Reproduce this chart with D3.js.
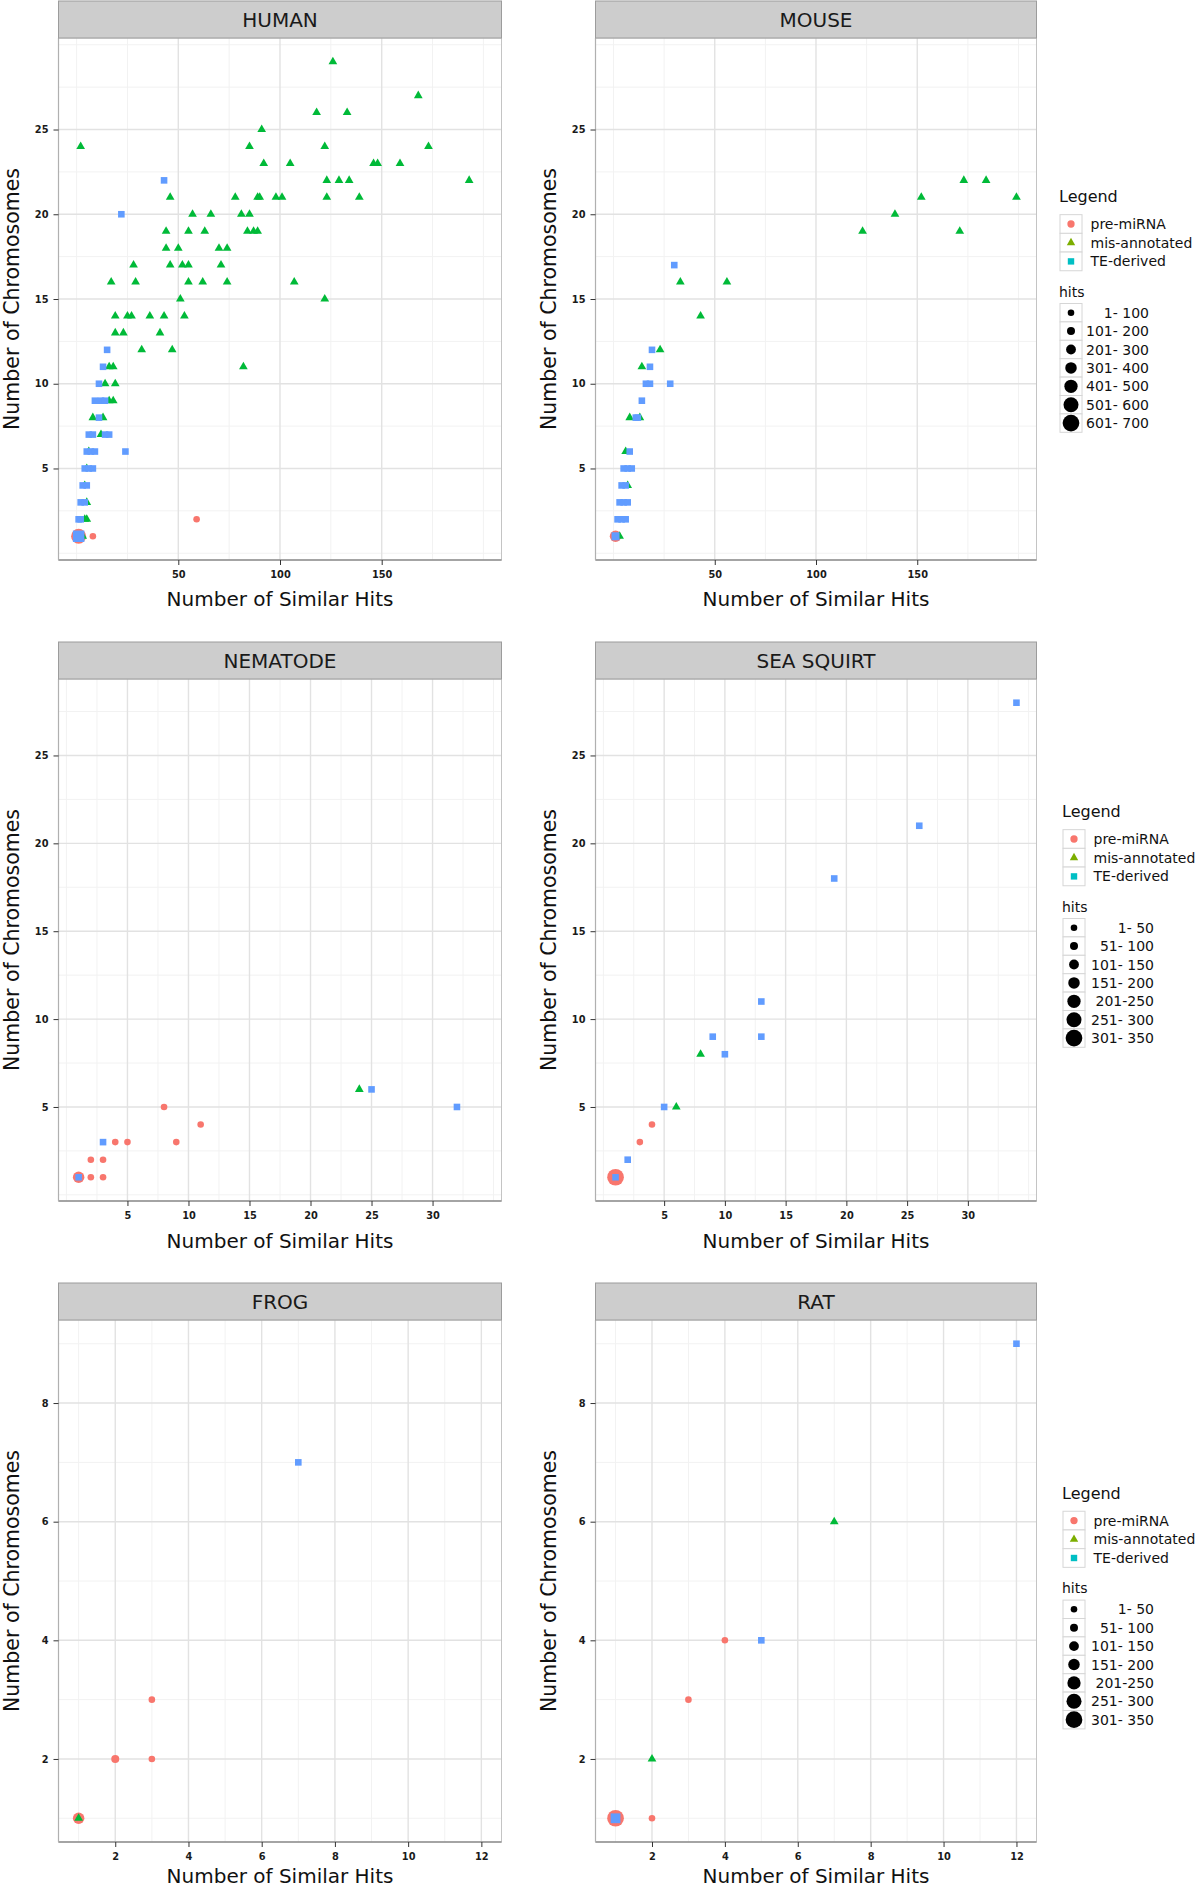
<!DOCTYPE html>
<html><head><meta charset="utf-8">
<script src="https://cdn.jsdelivr.net/npm/d3@7"></script>
<style>body{margin:0;background:#fff}svg{display:block}text{font-family:"DejaVu Sans",sans-serif}</style>
</head><body><svg id="chart" width="1200" height="1891"></svg>
<script>
// ---------- categories & labels ----------
const categories = ["pre-miRNA", "mis-annotated", "TE-derived"];
const panelTitles = ["HUMAN", "MOUSE", "NEMATODE", "SEA SQUIRT", "FROG", "RAT"];
const hitsLabelsRow1 = ["1- 100", "101- 200", "201- 300", "301- 400", "401- 500", "501- 600", "601- 700"];
const hitsLabelsRow23 = ["1- 50", "51- 100", "101- 150", "151- 200", "201-250", "251- 300", "301- 350"];
const hitsBinRow1 = 100, hitsBinRow23 = 50;

// ---------- tick values ----------
const row1XTicks = [50, 100, 150], row1YTicks = [5, 10, 15, 20, 25];
const row2XTicks = [5, 10, 15, 20, 25, 30], row2YTicks = [5, 10, 15, 20, 25];
const row3XTicks = [2, 4, 6, 8, 10, 12], row3YTicks = [2, 4, 6, 8];

// ---------- data: [similar hits, chromosomes, hits] ----------
const humanPre = [[1,1,560],[8,1,8],[59,2,6]];
const humanMis = [
 [126,29,4],[168,27,4],[118,26,4],[133,26,4],[91,25,4],
 [2,24,4],[85,24,4],[122,24,4],[173,24,4],
 [92,23,4],[105,23,4],[146,23,4],[148,23,4],[159,23,4],
 [123,22,4],[129,22,4],[134,22,4],[193,22,4],
 [46,21,4],[78,21,4],[89,21,4],[90,21,4],[98,21,4],[101,21,4],[123,21,4],[139,21,4],
 [57,20,4],[66,20,4],[81,20,4],[85,20,4],
 [44,19,4],[55,19,4],[63,19,4],[84,19,4],[87,19,4],[89,19,4],
 [44,18,4],[50,18,4],[70,18,4],[74,18,4],
 [28,17,4],[46,17,4],[52,17,4],[55,17,4],[71,17,4],
 [17,16,4],[29,16,4],[55,16,4],[62,16,4],[74,16,4],[107,16,4],
 [51,15,4],[122,15,4],
 [19,14,4],[25,14,4],[27,14,4],[36,14,4],[43,14,4],[53,14,4],
 [19,13,4],[23,13,4],[41,13,4],
 [32,12,4],[47,12,4],
 [16,11,4],[18,11,4],[82,11,4],
 [14,10,4],[19,10,4],
 [16,9,4],[18,9,4],
 [8,8,4],[13,8,4],
 [12,7,4],[6,6,4],[5,5,5],[4,4,6],[5,3,6],[4,2,8],[5,2,6],[3,1,20]
];
const humanTE = [
 [43,22,4],[22,20,4],[15,12,4],[13,11,4],[11,10,4],
 [9,9,4],[12,9,4],[14,9,4],[11,8,4],
 [6,7,4],[8,7,4],[14,7,4],[16,7,4],
 [5,6,4],[7,6,4],[9,6,4],[24,6,4],
 [4,5,5],[6,5,5],[8,5,5],[3,4,6],[5,4,6],[2,3,8],[4,3,6],[1,2,20],[2,2,10],[1,1,320]
];
const mousePre = [[1,1,350]];
const mouseMis = [
 [173,22,4],[184,22,4],[152,21,4],[199,21,4],[139,20,4],[123,19,4],[171,19,4],
 [33,16,4],[56,16,4],[43,14,4],[23,12,4],[14,11,4],[8,8,4],[13,8,4],[6,6,4],[7,4,4],[3,1,10]
];
const mouseTE = [
 [30,17,4],[19,12,4],[18,11,4],[16,10,4],[18,10,4],[28,10,4],[14,9,4],[11,8,4],[12,8,4],
 [8,6,4],[5,5,5],[7,5,5],[9,5,5],[4,4,6],[6,4,6],[3,3,6],[5,3,6],[7,3,6],
 [2,2,8],[4,2,8],[6,2,6],[1,1,150]
];
const nematodePre = [[1,1,180],[2,1,6],[3,1,5],[2,2,5],[3,2,5],[4,3,4],[5,3,4],[9,3,4],[11,4,4],[8,5,4]];
const nematodeMis = [[24,6,3]];
const nematodeTE = [[1,1,30],[3,3,4],[25,6,3],[32,5,3]];
const seasquirtPre = [[1,1,320],[3,3,5],[4,4,4]];
const seasquirtMis = [[6,5,3],[8,8,3]];
const seasquirtTE = [[1,1,40],[2,2,6],[5,5,4],[9,9,3],[10,8,3],[13,9,3],[13,11,3],[19,18,3],[26,21,3],[34,28,3]];
const frogPre = [[1,1,170],[2,2,70],[3,2,10],[3,3,10]];
const frogMis = [[1,1,20]];
const frogTE = [[7,7,3]];
const ratPre = [[1,1,330],[2,1,10],[3,3,8],[4,4,6]];
const ratMis = [[2,2,40],[7,6,4]];
const ratTE = [[1,1,110],[5,4,8],[12,9,3]];

// ---------- styles ----------
const pointColors = ["#F8766D", "#00BA38", "#619CFF"];
const keyColors = ["#F8766D", "#7CAE00", "#00BFC4"];
const sizeDiameters = [6.6, 8, 9.8, 11.5, 13.3, 15, 16.7];
const shapes = [d3.symbolCircle, d3.symbolTriangle, d3.symbolSquare];
function symbolArea(k, D) {
  if (k === 0) return Math.PI * (D / 2) * (D / 2);
  if (k === 1) { const s = D * 1.32; return Math.sqrt(3) / 4 * s * s; }
  const s = D * 1.0; return s * s;
}

const rows = [
  {panels: [[humanPre, humanMis, humanTE], [mousePre, mouseMis, mouseTE]], xt: row1XTicks, yt: row1YTicks, bin: hitsBinRow1, labels: hitsLabelsRow1},
  {panels: [[nematodePre, nematodeMis, nematodeTE], [seasquirtPre, seasquirtMis, seasquirtTE]], xt: row2XTicks, yt: row2YTicks, bin: hitsBinRow23, labels: hitsLabelsRow23},
  {panels: [[frogPre, frogMis, frogTE], [ratPre, ratMis, ratTE]], xt: row3XTicks, yt: row3YTicks, bin: hitsBinRow23, labels: hitsLabelsRow23}
];

// ---------- layout ----------
const stripTops = [1, 642, 1283];
const stripH = 37, panelH = 522;
const colLeft = [58.5, 595.5], colW = [443, 441];
const yTitleX = [12, 549];
const xTitleOffset = [39, 40, 34];
const legendTitleY = [196.7, 811.7, 1493.3];
const legendX = [1059, 1062, 1062];

const svg = d3.select("#chart");
svg.append("rect").attr("width", 1200).attr("height", 1891).attr("fill", "#fff");

function expand(ext) { const p = (ext[1] - ext[0]) * 0.05; return [ext[0] - p, ext[1] + p]; }
function minorBreaks(t, dom) {
  const step = t[1] - t[0];
  const out = [];
  for (let v = t[0] - step; v <= t[t.length - 1] + step + 1e-9; v += step / 2) {
    if (!t.some(m => Math.abs(m - v) < 1e-9) && v >= dom[0] && v <= dom[1]) out.push(v);
  }
  return out;
}

rows.forEach((row, ri) => {
  const all = row.panels.flat(2);
  const xDom = expand(d3.extent(all, d => d[0]));
  const yDom = expand(d3.extent(all, d => d[1]));
  const size = d3.scaleQuantize().domain([0, 7 * row.bin]).range(sizeDiameters);
  const top = stripTops[ri] + stripH;

  row.panels.forEach((pan, ci) => {
    const w = colW[ci];
    const x = d3.scaleLinear().domain(xDom).range([0, w]);
    const y = d3.scaleLinear().domain(yDom).range([panelH, 0]);
    const g = svg.append("g").attr("transform", `translate(${colLeft[ci]},${top})`);
    g.append("rect").attr("width", w).attr("height", panelH).attr("fill", "#fff");
    // minor grid
    g.selectAll(".mx").data(minorBreaks(row.xt, xDom)).join("line")
      .attr("x1", d => x(d)).attr("x2", d => x(d)).attr("y1", 0).attr("y2", panelH)
      .attr("stroke", "#f2f2f2").attr("stroke-width", 1);
    g.selectAll(".my").data(minorBreaks(row.yt, yDom)).join("line")
      .attr("y1", d => y(d)).attr("y2", d => y(d)).attr("x1", 0).attr("x2", w)
      .attr("stroke", "#f2f2f2").attr("stroke-width", 1);
    // major grid
    g.selectAll(".gx").data(row.xt).join("line")
      .attr("x1", d => x(d)).attr("x2", d => x(d)).attr("y1", 0).attr("y2", panelH)
      .attr("stroke", "#e2e2e2").attr("stroke-width", 1.4);
    g.selectAll(".gy").data(row.yt).join("line")
      .attr("y1", d => y(d)).attr("y2", d => y(d)).attr("x1", 0).attr("x2", w)
      .attr("stroke", "#e2e2e2").attr("stroke-width", 1.4);
    // points
    pan.forEach((series, k) => {
      g.selectAll(null).data(series).join("path")
        .attr("transform", d => `translate(${x(d[0])},${y(d[1])})`)
        .attr("d", d => d3.symbol().type(shapes[k]).size(symbolArea(k, size(d[2])))())
        .attr("fill", pointColors[k]);
    });
    // border
    g.append("rect").attr("width", w).attr("height", panelH).attr("fill", "none").attr("stroke", "#c4c4c4");
    g.append("line").attr("x1", 0).attr("x2", w).attr("y1", panelH).attr("y2", panelH).attr("stroke", "#8f8f8f").attr("stroke-width", 1.3);
    g.append("line").attr("x1", 0).attr("x2", 0).attr("y1", 0).attr("y2", panelH).attr("stroke", "#b0b0b0").attr("stroke-width", 1.2);
    // axes
    const ax = g.append("g").attr("transform", `translate(0,${panelH})`)
      .call(d3.axisBottom(x).tickValues(row.xt).tickSize(5).tickPadding(6));
    const ay = g.append("g").call(d3.axisLeft(y).tickValues(row.yt).tickSize(5).tickPadding(5));
    [ax, ay].forEach(a => {
      a.select(".domain").remove();
      a.selectAll(".tick line").attr("stroke", "#333");
      a.selectAll(".tick text").attr("font-family", "DejaVu Sans").attr("font-size", 9.8)
        .attr("font-weight", "bold").attr("fill", "#1a1a1a");
    });
    // strip
    svg.append("rect").attr("x", colLeft[ci]).attr("y", stripTops[ri]).attr("width", w).attr("height", stripH)
      .attr("fill", "#cdcdcd").attr("stroke", "#9c9c9c").attr("stroke-width", 1);
    svg.append("text").attr("x", colLeft[ci] + w / 2).attr("y", stripTops[ri] + stripH / 2)
      .attr("text-anchor", "middle").attr("dominant-baseline", "central")
      .attr("font-size", 20).attr("fill", "#1a1a1a").text(panelTitles[ri * 2 + ci]);
    // axis titles
    svg.append("text").attr("x", colLeft[ci] + w / 2).attr("y", top + panelH + xTitleOffset[ri])
      .attr("text-anchor", "middle").attr("dominant-baseline", "central")
      .attr("font-size", 20).attr("fill", "#111").text("Number of Similar Hits");
    svg.append("text").attr("transform", `translate(${yTitleX[ci]},${top + panelH / 2}) rotate(-90)`)
      .attr("text-anchor", "middle").attr("dominant-baseline", "central")
      .attr("font-size", 20.5).attr("fill", "#111").text("Number of Chromosomes");
  });

  // legend
  const lx = legendX[ri], ly = legendTitleY[ri];
  const lg = svg.append("g");
  lg.append("text").attr("x", lx).attr("y", ly).attr("dominant-baseline", "central")
    .attr("font-size", 16).attr("fill", "#111").text("Legend");
  const keyW = 22, keyH = 18.7, keyTop = ly + 27.3 - keyH / 2;
  categories.forEach((c, k) => {
    const cy = keyTop + k * keyH + keyH / 2;
    lg.append("rect").attr("x", lx + 1).attr("y", keyTop + k * keyH).attr("width", keyW).attr("height", keyH)
      .attr("fill", "#fff").attr("stroke", "#d6d6d6");
    lg.append("path").attr("transform", `translate(${lx + 1 + keyW / 2},${cy})`)
      .attr("d", d3.symbol().type(shapes[k]).size(symbolArea(k, k === 0 ? 7.3 : 6.4))())
      .attr("fill", keyColors[k]);
    lg.append("text").attr("x", lx + 31.5).attr("y", cy).attr("dominant-baseline", "central")
      .attr("font-size", 14).attr("fill", "#111").text(c);
  });
  lg.append("text").attr("x", lx).attr("y", ly + 95).attr("dominant-baseline", "central")
    .attr("font-size", 14).attr("fill", "#111").text("hits");
  const sH = 18.4, sTop = ly + 116 - sH / 2;
  row.labels.forEach((lab, i) => {
    const cy = sTop + i * sH + sH / 2;
    lg.append("rect").attr("x", lx + 1).attr("y", sTop + i * sH).attr("width", keyW).attr("height", sH)
      .attr("fill", "#fff").attr("stroke", "#d6d6d6");
    lg.append("circle").attr("cx", lx + 1 + keyW / 2).attr("cy", cy).attr("r", sizeDiameters[i] / 2).attr("fill", "#000");
    lg.append("text").attr("x", lx + (ri === 0 ? 90 : 92)).attr("y", cy).attr("dominant-baseline", "central")
      .attr("text-anchor", "end").attr("font-size", 14).attr("fill", "#111").text(lab);
  });
});
</script>
</body></html>
